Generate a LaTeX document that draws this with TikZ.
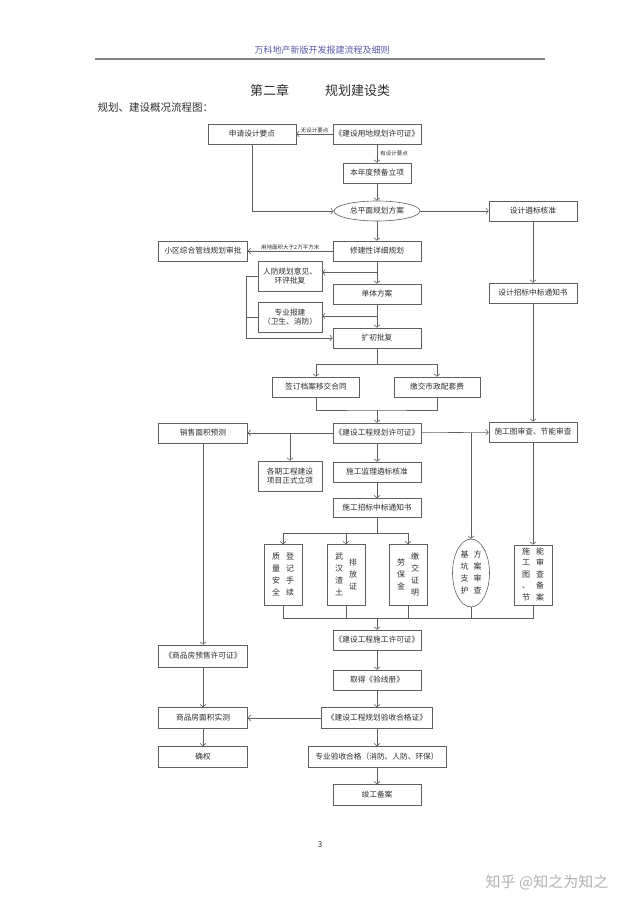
\documentclass[tikz,border=0pt]{standalone}
\usepackage{fontspec}
\setmainfont{Noto Sans CJK SC}
\usetikzlibrary{arrows.meta,shapes.geometric,calc}
\definecolor{linec}{RGB}{95,95,95}
\definecolor{txtc}{RGB}{45,45,45}
\definecolor{hdrc}{RGB}{90,90,170}
\newcommand\vtxt[1]{\begin{tabular}{@{}c@{}}#1\end{tabular}}

\begin{document}
\begin{tikzpicture}[x=1pt,y=-1pt,
  >={Straight Barb[length=2.5pt,width=6pt]},
  line/.style={draw=linec,line width=0.6pt},
  box/.style={line,minimum width=88pt,minimum height=20pt,inner sep=1pt,
    text=txtc,font=\fontsize{7.7}{9}\selectfont},
  tbox/.style={box,minimum width=64pt,minimum height=30pt,align=center},
  vbox/.style={box,minimum width=38pt,minimum height=61pt,font=\fontsize{8}{12}\selectfont},
  note/.style={text=txtc,font=\fontsize{5.5}{6}\selectfont,inner sep=1pt}]
  \useasboundingbox (0,0) rectangle (640,904);
  % page head
  \node[text=hdrc,font=\fontsize{9}{10}\selectfont] (head) at (322,50) {万科地产新版开发报建流程及细则};
  \draw[draw=gray,line width=1.5pt] (95,59) -- (545,59);
  \node[text=txtc,font=\fontsize{13}{15}\selectfont] (title) at (320,90) {第二章\hspace{36pt}规划建设类};
  \node[text=txtc,font=\fontsize{10.5}{12}\selectfont,anchor=west] (sub) at (94,108) {规划、建设概况流程图：};

  % planning stage
  \node[box] (sq) at (252,134) {申请设计要点};
  \node[box] (ydxk) at (377,134) {《建设用地规划许可证》};
  \node[box,minimum width=68pt] (lx) at (377,173) {本年度预备立项};
  \node[box,ellipse,minimum width=86pt,inner sep=0pt] (zpm) at (377,211) {总平面规划方案};
  \node[box] (zb) at (533,211) {设计遴标核准};
  \node[box] (zbtz) at (533,293) {设计招标中标通知书};
  \node[box] (xjx) at (377,251) {修建性详细规划};
  \node[box,minimum width=89pt] (gx) at (203,251) {小区综合管线规划审批};
  \node[tbox] (rf) at (290,276) {人防规划意见、\\环评批复};
  \node[box] (dt) at (377,294) {单体方案};
  \node[tbox] (zy) at (290,317) {专业报建\\（卫生、消防）};
  \node[box] (kc) at (377,338) {扩初批复};
  \node[box,minimum width=87pt] (da) at (316,387) {签订档案移交合同};
  \node[box,minimum width=86pt] (sz) at (437,387) {缴交市政配套费};

  % construction stage
  \node[box] (gh) at (377,433) {《建设工程规划许可证》};
  \node[box,minimum width=89pt] (xs) at (203,433) {销售面积预测};
  \node[box] (sgt) at (533,432) {施工图审查、节能审查};
  \node[tbox] (gq) at (290,476) {各期工程建设\\项目正式立项};
  \node[box] (jl) at (377,472) {施工监理遴标核准};
  \node[box,minimum height=19pt] (sgzb) at (377,508) {施工招标中标通知书};
  \node[vbox] (v1) at (283,575) {\vtxt{质\\量\\安\\全}\hspace{6pt}\vtxt{登\\记\\手\\续}};
  \node[vbox] (v2) at (346,575) {\vtxt{武\\汉\\渣\\土}\hspace{6pt}\vtxt{排\\放\\证}};
  \node[vbox] (v3) at (408,575) {\vtxt{劳\\保\\金}\hspace{6pt}\vtxt{缴\\交\\证\\明}};
  \node[vbox,ellipse,minimum width=37pt,minimum height=61pt,inner sep=0pt] (v4) at (471,573)
    {\vtxt{基\\坑\\支\\护}\hspace{5pt}\vtxt{方\\案\\审\\查}};
  \node[vbox,minimum height=60pt,font=\fontsize{8}{11.5}\selectfont] (v5) at (533,575)
    {\vtxt{施\\工\\图\\、\\节}\hspace{6pt}\vtxt{能\\审\\查\\备\\案}};
  \node[box] (sgxk) at (377,640) {《建设工程施工许可证》};
  \node[box] (yx) at (377,680) {取得《验线册》};
  \node[box,minimum width=111pt,minimum height=21pt] (ys) at (377,718) {《建设工程规划验收合格证》};
  \node[box,minimum width=138pt,minimum height=21pt] (zyys) at (377,757) {专业验收合格（消防、人防、环保）};
  \node[box,minimum height=21pt] (jg) at (377,795) {竣工备案};
  \node[box,minimum width=89pt,minimum height=22pt] (ys2) at (203,656) {《商品房预售许可证》};
  \node[box,minimum width=89pt,minimum height=21pt] (sc) at (203,718) {商品房面积实测};
  \node[box,minimum width=89pt,minimum height=21pt] (qq) at (203,757) {确权};

  % connectors
  \draw[line,->] (ydxk) -- node[note,above] {无设计要点} (sq);
  \draw[line,->] (ydxk) -- node[note,right,xshift=2pt] {有设计要点} (lx);
  \draw[line,->] (sq.south) |- (zpm.west);
  \draw[line,->] (xjx) -- node[note,above] {用地面积大于2万平方米} (gx);
  \coordinate (b1) at ($(xjx.south)!0.5!(dt.north)$);
  \coordinate (b2) at ($(dt.south)!0.5!(kc.north)$);
  \draw[line,->] (b1) -- (b1 -| rf.east);
  \draw[line,->] (b2) -- (b2 -| zy.east);
  \draw[line,->] (rf.west) -- ++(-11,0) coordinate (l1) |- (kc.west);
  \draw[line] (zy.west) -- (zy.west -| l1);
  \coordinate (s1) at (377,364);
  \draw[line] (kc) -- (s1);
  \draw[line,->] (s1) -| (da);
  \draw[line,->] (s1) -| (sz);
  \coordinate (j1) at (377,410);
  \draw[line] (da) |- (j1) -| (sz);
  \draw[line,->] (j1) -- (gh);
  \draw[line,->] (gh.west -| gq) -- (gq);
  \draw[line,->] (gh.east -| v4) -- (v4);
  \coordinate (s2) at (377,533);
  \draw[line] (sgzb) -- (s2);
  \draw[line,->] (s2) -| (v1);
  \draw[line,->] (s2) -| (v3);
  \draw[line,->] (s2 -| v2) -- (v2);
  \coordinate (j2) at (377,618);
  \draw[line] (v1) |- (j2);
  \draw[line] (v5) |- (j2);
  \foreach \v in {v2,v3,v4}
    \draw[line] (\v) -- (\v |- j2);
  \draw[line,->] (j2) -- (sgxk);
  \foreach \a/\b in {lx/zpm,zpm/zb,zb/zbtz,zbtz/sgt,zpm/xjx,xjx/dt,dt/kc,gh/xs,gh/sgt,gh/jl,jl/sgzb,
      sgt/v5,sgxk/yx,yx/ys,ys/zyys,zyys/jg,xs/ys2,ys2/sc,sc/qq,ys/sc}
    \draw[line,->] (\a) -- (\b);

  % page foot
  \node[text=txtc,font=\fontsize{8}{9}\selectfont] (pno) at (320,845) {3};
  \node[text=gray!60,font=\fontsize{15}{17}\selectfont] (mark) at (547,882) {知乎 @知之为知之};
\end{tikzpicture}
\end{document}
